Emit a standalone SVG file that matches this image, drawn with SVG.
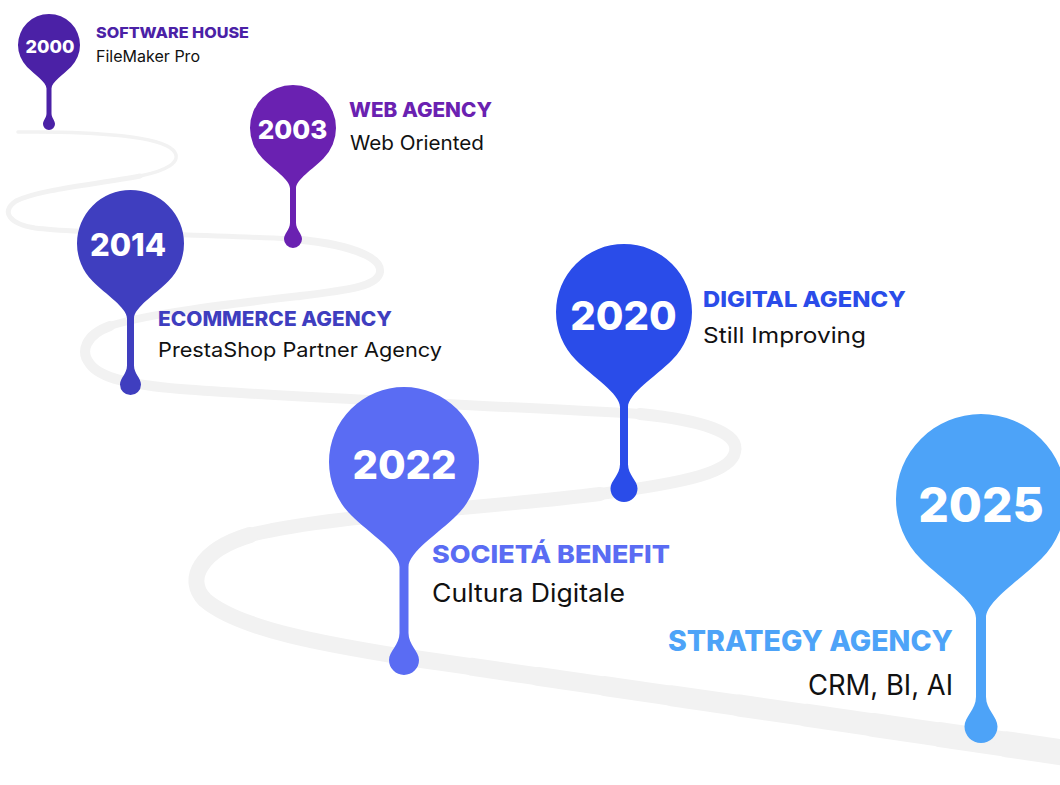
<svg xmlns="http://www.w3.org/2000/svg" width="1060" height="785" viewBox="0 0 1060 785">
<style>
.road{fill:none;stroke:#f2f2f2;stroke-linecap:round;stroke-linejoin:round}
.yr{font-family:Inter,"Liberation Sans",sans-serif;font-weight:800;fill:#fff;text-anchor:middle}
.hd{font-family:Inter,"Liberation Sans",sans-serif;font-weight:800}
.sb{font-family:Inter,"Liberation Sans",sans-serif;font-weight:400;fill:#111}
</style>
<rect width="1060" height="785" fill="#fff"/>
<g id="road">
<path class="road" stroke-width="3.5" d="M18,132 C100,131 160,137 173,150 C184,162 165,171 140,176"/>
<path class="road" stroke-width="5" d="M140,176 C100,184 40,189 16,201 C0,212 10,224 35,228 C80,234 200,234 290,239"/>
<path class="road" stroke-width="8" d="M290,239 C345,243 382,256 380,272 C378,286 350,290 300,296 C230,304 150,313 110,326"/>
<path class="road" stroke-width="10" d="M110,326 C85,335 80,352 90,364 C100,378 130,385 180,389 C300,398 500,406 640,414"/>
<path class="road" stroke-width="12" d="M640,414 C700,420 740,432 735,452 C731,472 690,482 600,494"/>
<path class="road" stroke-width="14" d="M600,494 C470,510 330,515 250,535"/>
<path class="road" stroke-width="16" d="M250,535 C200,550 185,580 205,600 C240,630 330,645 404,657"/>
<path class="road" stroke-width="17" d="M404,657 L471,666.7"/>
<path class="road" stroke-width="18" d="M471,666.7 L538,676.4"/>
<path class="road" stroke-width="19" d="M538,676.4 L605,686.1"/>
<path class="road" stroke-width="20" d="M605,686.1 L672,695.8"/>
<path class="road" stroke-width="21" d="M672,695.8 L739,705.5"/>
<path class="road" stroke-width="22" d="M739,705.5 L806,715.2"/>
<path class="road" stroke-width="23" d="M806,715.2 L873,724.9"/>
<path class="road" stroke-width="24" d="M873,724.9 L940,734.6"/>
<path class="road" stroke-width="25" d="M940,734.6 L1007,744.3"/>
<path class="road" stroke-width="26" d="M1007,744.3 L1080,755"/>
</g>
<g id="pin-2000">
<path fill="#4b21a6" transform="translate(49,45)" d="M21.92,21.92 C14.26,29.6 2.5,37.2 2.5,43.4 L2.5,68.2 C2.5,73 6,75.4 6,79 A6,6 0 0 1 -6,79 C-6,75.4 -2.5,73 -2.5,68.2 L-2.5,43.4 C-2.5,37.2 -14.26,29.6 -21.92,21.92 A31,31 0 1 1 21.92,21.92 Z"/>
<text class="yr" x="50" y="53" font-size="18">2000</text>
<text class="hd" x="96" y="38" font-size="15" fill="#4b21a6" textLength="153" lengthAdjust="spacingAndGlyphs">SOFTWARE HOUSE</text>
<text class="sb" x="96" y="62" font-size="15.5" textLength="104" lengthAdjust="spacingAndGlyphs">FileMaker Pro</text>
</g>
<g id="pin-2003">
<path fill="#6a21b1" transform="translate(293,128)" d="M30.4,30.4 C19.78,41.07 3,51.6 3,60.2 L3,94.8 C3,102 9,105.6 9,111 A9,9 0 0 1 -9,111 C-9,105.6 -3,102 -3,94.8 L-3,60.2 C-3,51.6 -19.78,41.07 -30.4,30.4 A43,43 0 1 1 30.4,30.4 Z"/>
<text class="yr" x="292.5" y="139" font-size="26">2003</text>
<text class="hd" x="349" y="117" font-size="20" fill="#6a21b1" textLength="143" lengthAdjust="spacingAndGlyphs">WEB AGENCY</text>
<text class="sb" x="350" y="150" font-size="20" textLength="134" lengthAdjust="spacingAndGlyphs">Web Oriented</text>
</g>
<g id="pin-2014">
<path fill="#3f3ebf" transform="translate(130.5,243.5)" d="M37.82,37.82 C24.61,51.09 3.5,64.2 3.5,74.9 L3.5,122.1 C3.5,130.5 10.5,134.7 10.5,141 A10.5,10.5 0 0 1 -10.5,141 C-10.5,134.7 -3.5,130.5 -3.5,122.1 L-3.5,74.9 C-3.5,64.2 -24.61,51.09 -37.82,37.82 A53.5,53.5 0 1 1 37.82,37.82 Z"/>
<text class="yr" x="128" y="256" font-size="31">2014</text>
<text class="hd" x="158" y="326" font-size="20" fill="#3f3ebf" textLength="234" lengthAdjust="spacingAndGlyphs">ECOMMERCE AGENCY</text>
<text class="sb" x="158" y="357" font-size="20" textLength="284" lengthAdjust="spacingAndGlyphs">PrestaShop Partner Agency</text>
</g>
<g id="pin-2020">
<path fill="#2a4ce9" transform="translate(624,312)" d="M48.08,48.08 C31.28,64.94 4,81.6 4,95.2 L4,152.2 C4,163 13.5,168.4 13.5,176.5 A13.5,13.5 0 0 1 -13.5,176.5 C-13.5,168.4 -4,163 -4,152.2 L-4,95.2 C-4,81.6 -31.28,64.94 -48.08,48.08 A68,68 0 1 1 48.08,48.08 Z"/>
<text class="yr" x="623.5" y="330" font-size="40">2020</text>
<text class="hd" x="703" y="307" font-size="22" fill="#2a4ce9" textLength="203" lengthAdjust="spacingAndGlyphs">DIGITAL AGENCY</text>
<text class="sb" x="703" y="343" font-size="22" textLength="163" lengthAdjust="spacingAndGlyphs">Still Improving</text>
</g>
<g id="pin-2022">
<path fill="#5a6cf3" transform="translate(404,462)" d="M53.03,53.03 C34.5,71.63 4.5,90 4.5,105 L4.5,171 C4.5,183 15,189 15,198 A15,15 0 0 1 -15,198 C-15,189 -4.5,183 -4.5,171 L-4.5,105 C-4.5,90 -34.5,71.63 -53.03,53.03 A75,75 0 1 1 53.03,53.03 Z"/>
<text class="yr" x="404.5" y="479" font-size="40">2022</text>
<text class="hd" x="432" y="563" font-size="25" fill="#5a6cf3" textLength="238" lengthAdjust="spacingAndGlyphs">SOCIETÁ BENEFIT</text>
<text class="sb" x="432" y="602" font-size="25" textLength="193" lengthAdjust="spacingAndGlyphs">Cultura Digitale</text>
</g>
<g id="pin-2025">
<path fill="#4da3f8" transform="translate(981,499)" d="M60.1,60.1 C39.1,81.18 5,102 5,119 L5,197.8 C5,211 16.5,217.6 16.5,227.5 A16.5,16.5 0 0 1 -16.5,227.5 C-16.5,217.6 -5,211 -5,197.8 L-5,119 C-5,102 -39.1,81.18 -60.1,60.1 A85,85 0 1 1 60.1,60.1 Z"/>
<text class="yr" x="981" y="522" font-size="48">2025</text>
<text class="hd" x="668" y="651" font-size="28" fill="#4da3f8" textLength="285" lengthAdjust="spacingAndGlyphs">STRATEGY AGENCY</text>
<text class="sb" x="808" y="695" font-size="28" textLength="145" lengthAdjust="spacingAndGlyphs">CRM, BI, AI</text>
</g>
</svg>
